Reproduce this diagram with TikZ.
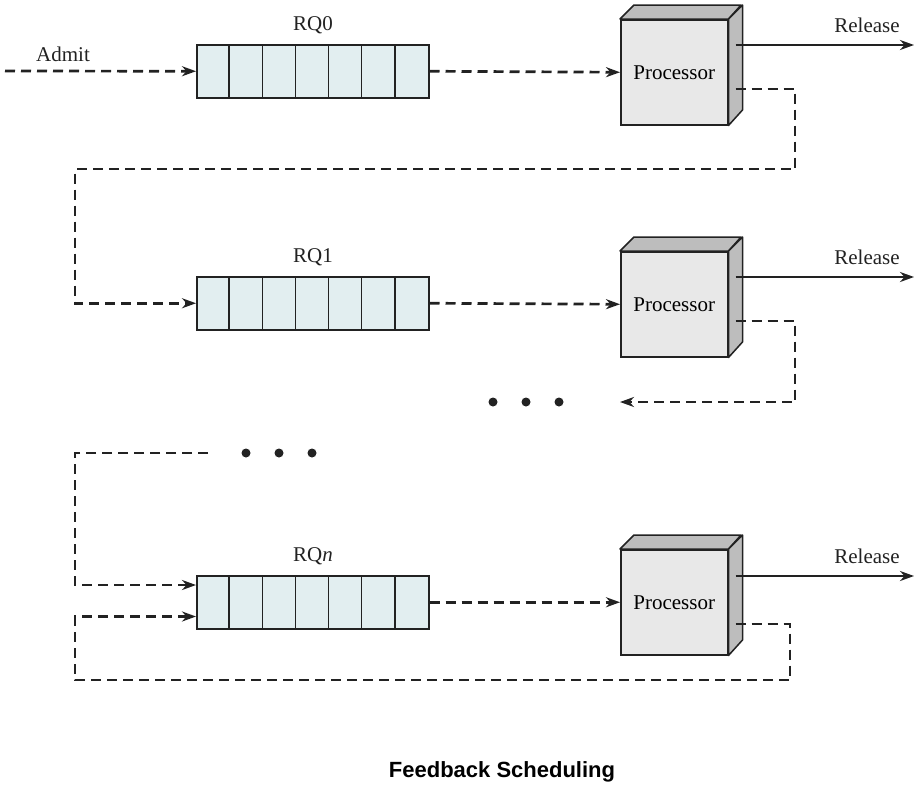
\documentclass[tikz,border=0pt]{standalone}
\usepackage{fontspec}
\setmainfont{Liberation Serif}
\newfontfamily\capfont{Liberation Sans}
\usetikzlibrary{arrows.meta,calc}
\definecolor{qfill}{HTML}{E2EEF0}
\definecolor{pfill}{HTML}{E8E8E8}
\definecolor{pside}{HTML}{BDBDBD}
\definecolor{ink}{HTML}{222222}
\begin{document}
\begin{tikzpicture}[x=1pt,y=-1pt,
  queue/.style={draw=ink, line width=1.5pt, fill=qfill, minimum width=232pt, minimum height=53pt, inner sep=0pt, anchor=north west},
  proc/.style={draw=ink, line width=1.5pt, fill=pfill, minimum width=107pt, minimum height=105pt, inner sep=0pt, anchor=north west, font=\fontsize{21}{25}\selectfont},
  face/.style={draw=ink, line width=1.5pt, fill=pside, line join=round},
  flowline/.style={line width=2.7pt, draw=ink, dash pattern=on 10pt off 6pt},
  flow/.style={flowline, -{Stealth[length=14pt,width=10pt]}},
  rel/.style={line width=2.7pt, draw=ink, -{Stealth[length=14pt,width=10pt]}},
  lbl/.style={font=\fontsize{21}{25}\selectfont, text=ink, inner sep=0pt},
  dot/.style={circle, fill=ink, minimum size=9pt, inner sep=0pt},
]
\useasboundingbox[fill=white] (0,0) rectangle (919,787);

% queues
\node[queue] (q0) at (196,44) {};
\node[queue] (q1) at (196,276) {};
\node[queue] (qn) at (196,575) {};
\foreach \q in {q0,q1,qn}{
  \foreach \i in {1,...,6}{
    \draw[ink, line width=1.5pt] ($(\q.north west)+(\i*33.143,0)$) -- ++(0,53);
  }
}
\node[lbl] (lq0) at (313,25) {RQ0};
\node[lbl] (lq1) at (313,257) {RQ1};
\node[lbl] (lqn) at (313,556) {RQ\textit{n}};

% processors
\node[proc] (p0) at (620,19) {Processor};
\node[proc] (p1) at (620,251) {Processor};
\node[proc] (pn) at (620,549) {Processor};
\foreach \p in {p0,p1,pn}{
  \draw[face] (\p.north west) -- ++(14,-14) -- ++(107,0) -- (\p.north east) -- cycle;
  \draw[face] (\p.north east) -- ++(14,-14) -- ++(0,105) -- (\p.south east) -- cycle;
}

% release outputs
\coordinate (r0s) at ($(p0.north east)+(7,26)$);
\coordinate (r1s) at ($(p1.north east)+(7,26)$);
\coordinate (rns) at ($(pn.north east)+(7,27)$);
\coordinate (r0e) at (914,45);
\coordinate (r1e) at (914,277);
\coordinate (rne) at (914,576);
\draw[rel] (r0s) -- (r0e);
\draw[rel] (r1s) -- (r1e);
\draw[rel] (rns) -- (rne);
\node[lbl] (rl0) at (867,25) {Release};
\node[lbl] (rl1) at (867,257) {Release};
\node[lbl] (rln) at (867,556) {Release};

% admit
\coordinate (adm) at (5,71);
\draw[flow] (adm) -- (q0.west);
\node[lbl] (ladm) at (63,54) {Admit};

% queue to processor
\draw[flow] (q0.east) -- (p0.west);
\draw[flow] (q1.east) -- (p1.west);
\draw[flow] (qn.east) -- (pn.west);

% feedback 0 -> RQ1
\coordinate (f0s) at ($(p0.north east)+(7,70)$);
\coordinate (k0) at (795,169);
\coordinate (k1) at (75,169);
\draw[flow] (f0s) -| (k0) -- (k1) |- (q1.west);

% feedback 1 -> dots
\coordinate (f1s) at ($(p1.north east)+(7,70)$);
\coordinate (k2) at (795,402);
\coordinate (d1e) at (620,402);
\draw[flow] (f1s) -| (k2) -- (d1e);
\node[dot] (da1) at (493,402) {};
\node[dot] (da2) at (526,402) {};
\node[dot] (da3) at (559,402) {};

% dots -> RQn
\node[dot] (db1) at (246,453) {};
\node[dot] (db2) at (279,453) {};
\node[dot] (db3) at (312,453) {};
\coordinate (d2s) at (208,453);
\coordinate (k3) at (75,453);
\coordinate (qin1) at ($(qn.north west)+(0,10)$);
\coordinate (qin2) at ($(qn.south west)+(0,-13)$);
\draw[flow] (d2s) -- (k3) |- (qin1);

% feedback n -> RQn
\coordinate (fns) at ($(pn.north east)+(7,75)$);
\coordinate (k4) at (790,680);
\coordinate (k5) at (75,680);
\draw[flow] (fns) -| (k4) -- (k5) |- (qin2);

% caption
\node[font=\capfont\bfseries\fontsize{22}{26}\selectfont, inner sep=0pt] (cap) at (502,772) {Feedback Scheduling};
\end{tikzpicture}
\end{document}
